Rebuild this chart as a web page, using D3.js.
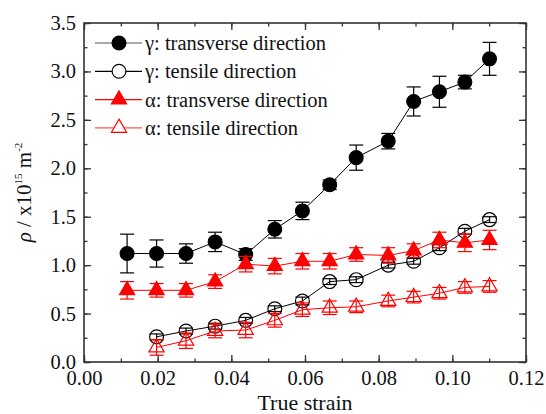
<!DOCTYPE html>
<html lang="en">

<head>
  <meta charset="UTF-8">
  <script src="https://d3js.org/d3.v7.min.js"></script>
  <style>
    body {
      margin: 0;
      background: white;
    }

    svg text {
      font-family: 'Liberation Serif', 'Times New Roman', serif;
      fill: #111;
    }
  </style>
</head>

<body>
  <svg id='chart' width='546' height='414' font-family="Liberation Serif"></svg>

  <script>
    // values
    const strain = [0.0117, 0.0197, 0.0277, 0.0356, 0.0439, 0.0518, 0.0593, 0.0667, 0.0739, 0.0826, 0.0895, 0.0965, 0.1034, 0.1101];

    const gammaTrans = [1.12, 1.12, 1.12, 1.24, 1.11, 1.37, 1.56, 1.83, 2.11, 2.28, 2.69, 2.79, 2.89, 3.13];
    const gammaTransErr = [0.20, 0.14, 0.10, 0.10, 0.06, 0.09, 0.09, 0.05, 0.13, 0.08, 0.15, 0.16, 0.07, 0.17];

    const gammaTens = [null, 0.26, 0.32, 0.37, 0.43, 0.55, 0.63, 0.83, 0.85, 1.00, 1.04, 1.18, 1.35, 1.47];
    const gammaTensErr = [null, 0.03, 0.03, 0.03, 0.03, 0.03, 0.04, 0.03, 0.03, 0.03, 0.03, 0.03, 0.03, 0.03];

    const alphaTrans = [0.74, 0.74, 0.74, 0.83, 1.01, 0.99, 1.04, 1.04, 1.11, 1.10, 1.15, 1.26, 1.23, 1.26];
    const alphaTransErr = [0.09, 0.07, 0.07, 0.07, 0.08, 0.08, 0.08, 0.08, 0.07, 0.08, 0.07, 0.08, 0.09, 0.10];

    const alphaTens = [null, 0.15, 0.22, 0.32, 0.33, 0.43, 0.54, 0.56, 0.57, 0.63, 0.67, 0.71, 0.77, 0.78];
    const alphaTensErr = [null, 0.08, 0.08, 0.07, 0.08, 0.07, 0.07, 0.07, 0.06, 0.06, 0.06, 0.06, 0.06, 0.06];

    const legendLabels = ['\u03b3: transverse direction', '\u03b3: tensile direction', '\u03b1: transverse direction', '\u03b1: tensile direction'];

    const xTicks = [0, 0.02, 0.04, 0.06, 0.08, 0.10, 0.12];
    const yTicks = [0, 0.5, 1.0, 1.5, 2.0, 2.5, 3.0, 3.5];

    const serif = "'Liberation Serif', 'Times New Roman', serif";

    const svg = d3.select("#chart");
    const margin = { top: 23, right: 20, bottom: 52, left: 84 };
    const width = 546 - margin.left - margin.right;
    const height = 414 - margin.top - margin.bottom;

    const g = svg.append("g")
      .attr("transform", "translate(" + margin.left + "," + margin.top + ")");

    const x = d3.scaleLinear().domain([0, 0.12]).range([0, width]);
    const y = d3.scaleLinear().domain([0, 3.5]).range([height, 0]);

    const axisColor = '#333';

    // series setup
    const series = [
      { vals: gammaTrans, err: gammaTransErr, color: 'black', line: '#555', shape: 'circle', filled: true },
      { vals: gammaTens, err: gammaTensErr, color: 'black', line: 'black', shape: 'circle', filled: false },
      { vals: alphaTrans, err: alphaTransErr, color: 'red', line: 'red', shape: 'triangle', filled: true },
      { vals: alphaTens, err: alphaTensErr, color: 'red', line: '#f55', shape: 'triangle', filled: false }
    ];

    const circleSym = d3.symbol().type(d3.symbolCircle).size(150);
    const triSym = d3.symbol().type(d3.symbolTriangle).size(100);

    function drawMarker(sel, s) {
      sel.append("path")
        .attr("d", s.shape == 'circle' ? circleSym() : triSym())
        .attr("fill", s.filled ? s.color : 'none')
        .attr("stroke", s.color)
        .attr("stroke-width", 1.2);
    }

    series.forEach(s => {
      const pts = strain.map((d, i) => ({ x: d, v: s.vals[i], e: s.err[i] }))
        .filter(d => d.v != null);

      const line = d3.line().x(d => x(d.x)).y(d => y(d.v));
      g.append("path")
        .datum(pts)
        .attr("d", line)
        .attr("fill", "none")
        .attr("stroke", s.color)
        .attr("stroke-width", 1);

      // error bars
      const eb = g.append("g").attr("stroke", s.color).attr("stroke-width", 1.2);
      pts.forEach(d => {
        eb.append("line")
          .attr("x1", x(d.x)).attr("x2", x(d.x))
          .attr("y1", y(d.v - d.e)).attr("y2", y(d.v + d.e));
        [d.v - d.e, d.v + d.e].forEach(v => {
          eb.append("line")
            .attr("x1", x(d.x) - 7).attr("x2", x(d.x) + 7)
            .attr("y1", y(v)).attr("y2", y(v));
        });
      });

      pts.forEach(d => {
        const m = g.append("g").attr("transform", "translate(" + x(d.x) + "," + y(d.v) + ")");
        drawMarker(m, s);
      });
    });

    // axes, ticks inward
    const xMinor = d3.range(0, 0.1201, 0.01);
    const yMinor = d3.range(0, 3.501, 0.25);

    function styleAxis(a) {
      a.attr("font-family", serif);
      a.select(".domain").remove();
      a.selectAll("line").attr("stroke", axisColor).attr("stroke-width", 1.3);
      a.selectAll("text")
        .style("font-family", serif)
        .style("font-size", "20.5px")
        .attr("fill", "#111");
    }

    const bottomMinor = g.append("g").attr("transform", "translate(0," + height + ")")
      .call(d3.axisBottom(x).tickValues(xMinor).tickSize(-3.5).tickFormat(""));
    styleAxis(bottomMinor);
    const bottom = g.append("g").attr("transform", "translate(0," + height + ")")
      .call(d3.axisBottom(x).tickValues(xTicks).tickSize(-7).tickPadding(8).tickFormat(d3.format(".2f")));
    styleAxis(bottom);

    const topMinor = g.append("g")
      .call(d3.axisTop(x).tickValues(xMinor).tickSize(-3.5).tickFormat(""));
    styleAxis(topMinor);
    const topAx = g.append("g")
      .call(d3.axisTop(x).tickValues(xTicks).tickSize(-7).tickFormat(""));
    styleAxis(topAx);

    const leftMinor = g.append("g")
      .call(d3.axisLeft(y).tickValues(yMinor).tickSize(-3.5).tickFormat(""));
    styleAxis(leftMinor);
    const left = g.append("g")
      .call(d3.axisLeft(y).tickValues(yTicks).tickSize(-7).tickPadding(8).tickFormat(d3.format(".1f")));
    styleAxis(left);

    const rightMinor = g.append("g").attr("transform", "translate(" + width + ",0)")
      .call(d3.axisRight(y).tickValues(yMinor).tickSize(-3.5).tickFormat(""));
    styleAxis(rightMinor);
    const rightAx = g.append("g").attr("transform", "translate(" + width + ",0)")
      .call(d3.axisRight(y).tickValues(yTicks).tickSize(-7).tickFormat(""));
    styleAxis(rightAx);

    g.append("rect")
      .attr("width", width).attr("height", height)
      .attr("fill", "none")
      .attr("stroke", axisColor)
      .attr("stroke-width", 1.6);

    // axis titles
    g.append("text")
      .attr("x", width / 2)
      .attr("y", height + 48)
      .attr("text-anchor", "middle")
      .style("font-size", "22px")
      .text("True strain");

    const yTitle = svg.append("text")
      .attr("transform", "translate(31," + (margin.top + height / 2) + ") rotate(-90)")
      .attr("text-anchor", "middle")
      .style("font-size", "21px");
    yTitle.append("tspan").style("font-style", "italic").text("\u03c1");
    yTitle.append("tspan").text(" / x10");
    yTitle.append("tspan").attr("dy", -9).style("font-size", "11px").text("15");
    yTitle.append("tspan").attr("dy", 9).text(" m");
    yTitle.append("tspan").attr("dy", -9).style("font-size", "11px").text("-2");

    // legend
    const legend = g.append("g").attr("transform", "translate(11,20)");
    series.forEach((s, i) => {
      const row = legend.append("g").attr("transform", "translate(0," + (28.3 * i) + ")");
      row.append("line")
        .attr("x1", 0).attr("x2", 47)
        .attr("stroke", s.line)
        .attr("stroke-width", 1.2);
      const m = row.append("g").attr("transform", "translate(24,0)");
      drawMarker(m, s);
      if (!s.filled) m.select("path").attr("fill", "white");
      row.append("text")
        .attr("x", 50)
        .attr("y", 7)
        .style("font-size", "20.5px")
        .text(legendLabels[i]);
    });
  </script>
</body>

</html>
